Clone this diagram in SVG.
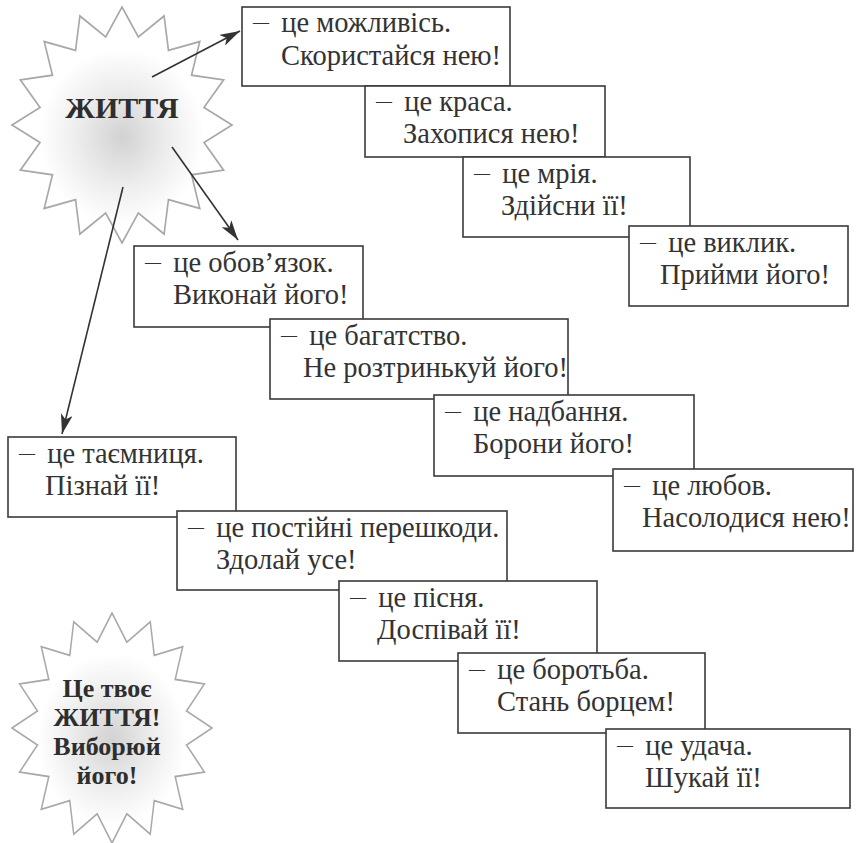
<svg xmlns="http://www.w3.org/2000/svg" width="856" height="843" viewBox="0 0 856 843">
<style>
.box rect{fill:#fff;stroke:#3a3a3a;stroke-width:1.6}
.box text{font-family:"Liberation Serif","DejaVu Serif","Times New Roman",serif;font-size:28.5px;fill:#333}
.d{font-size:16px}
.star{stroke:#a8a8a8;stroke-width:1.5;fill:url(#glow)}
.st{font-family:"Liberation Serif","DejaVu Serif","Times New Roman",serif;font-weight:bold;fill:#2e2e2e;text-anchor:middle}
.conn line{stroke:#333;stroke-width:1.6;marker-end:url(#ah)}
</style>
<defs>
<radialGradient id="glow" cx="50%" cy="55%" r="50%">
<stop offset="0" stop-color="#d2d2d2"/>
<stop offset="0.4" stop-color="#ececec"/>
<stop offset="0.75" stop-color="#ffffff"/>
</radialGradient>
<path id="starshape" d="M0,-100 L14.83,-74.54 L38.27,-92.39 L42.23,-63.19 L70.71,-70.71 L63.19,-42.23 L92.39,-38.27 L74.54,-14.83 L100,0 L74.54,14.83 L92.39,38.27 L63.19,42.23 L70.71,70.71 L42.23,63.19 L38.27,92.39 L14.83,74.54 L0,100 L-14.83,74.54 L-38.27,92.39 L-42.23,63.19 L-70.71,70.71 L-63.19,42.23 L-92.39,38.27 L-74.54,14.83 L-100,0 L-74.54,-14.83 L-92.39,-38.27 L-63.19,-42.23 L-70.71,-70.71 L-42.23,-63.19 L-38.27,-92.39 L-14.83,-74.54 Z"/>
<marker id="ah" markerUnits="userSpaceOnUse" markerWidth="22" markerHeight="12" refX="20" refY="6" orient="auto">
<path d="M0,0 L20,6 L0,12 L5,6 Z" fill="#333"/>
</marker>
</defs>
<rect width="856" height="843" fill="#fff"/>

<g id="star-top">
<use href="#starshape" class="star" transform="translate(122,125) scale(1.1,1.18)"/>
<text class="st" x="122" y="118" font-size="30">ЖИТТЯ</text>
</g>

<g id="star-bottom">
<use href="#starshape" class="star" transform="translate(112,728) scale(1.0,1.15)"/>
<text class="st" x="107" y="697" font-size="26">Це твоє</text>
<text class="st" x="107" y="726" font-size="26">ЖИТТЯ!</text>
<text class="st" x="107" y="755" font-size="26">Виборюй</text>
<text class="st" x="107" y="784" font-size="26">його!</text>
</g>

<g id="n1" class="box"><rect x="242" y="7" width="268" height="79"/><text x="253" y="32"><tspan class="d" baseline-shift="5">—</tspan><tspan dx="5"> це можливісь.</tspan></text><text x="281" y="65">Скористайся нею!</text></g>
<g id="n2" class="box"><rect x="365" y="86" width="240" height="71"/><text x="376" y="111"><tspan class="d" baseline-shift="5">—</tspan><tspan dx="5"> це краса.</tspan></text><text x="403" y="143">Захопися нею!</text></g>
<g id="n3" class="box"><rect x="463" y="157" width="227" height="80"/><text x="474" y="183"><tspan class="d" baseline-shift="5">—</tspan><tspan dx="5"> це мрія.</tspan></text><text x="501" y="215">Здійсни її!</text></g>
<g id="n4" class="box"><rect x="629" y="226" width="219" height="80"/><text x="640" y="252"><tspan class="d" baseline-shift="5">—</tspan><tspan dx="5"> це виклик.</tspan></text><text x="660" y="284">Прийми його!</text></g>
<g id="n5" class="box"><rect x="134" y="246" width="229" height="81"/><text x="145" y="272"><tspan class="d" baseline-shift="5">—</tspan><tspan dx="5"> це обов’язок.</tspan></text><text x="173" y="304">Виконай його!</text></g>
<g id="n6" class="box"><rect x="270" y="319" width="298" height="80"/><text x="281" y="345"><tspan class="d" baseline-shift="5">—</tspan><tspan dx="5"> це багатство.</tspan></text><text x="303" y="377">Не розтринькуй його!</text></g>
<g id="n7" class="box"><rect x="434" y="395" width="260" height="81"/><text x="445" y="421"><tspan class="d" baseline-shift="5">—</tspan><tspan dx="5"> це надбання.</tspan></text><text x="473" y="453">Борони його!</text></g>
<g id="n8" class="box"><rect x="613" y="469" width="240" height="82"/><text x="624" y="495"><tspan class="d" baseline-shift="5">—</tspan><tspan dx="5"> це любов.</tspan></text><text x="642" y="527">Насолодися нею!</text></g>
<g id="n9" class="box"><rect x="8" y="437" width="228" height="80"/><text x="19" y="463"><tspan class="d" baseline-shift="5">—</tspan><tspan dx="5"> це таємниця.</tspan></text><text x="45" y="495">Пізнай її!</text></g>
<g id="n10" class="box"><rect x="177" y="511" width="330" height="79"/><text x="188" y="537"><tspan class="d" baseline-shift="5">—</tspan><tspan dx="5"> це постійні перешкоди.</tspan></text><text x="216" y="569">Здолай усе!</text></g>
<g id="n11" class="box"><rect x="339" y="581" width="258" height="80"/><text x="350" y="607"><tspan class="d" baseline-shift="5">—</tspan><tspan dx="5"> це пісня.</tspan></text><text x="377" y="639">Доспівай її!</text></g>
<g id="n12" class="box"><rect x="458" y="653" width="247" height="80"/><text x="469" y="679"><tspan class="d" baseline-shift="5">—</tspan><tspan dx="5"> це боротьба.</tspan></text><text x="497" y="711">Стань борцем!</text></g>
<g id="n13" class="box"><rect x="606" y="729" width="244" height="79"/><text x="617" y="755"><tspan class="d" baseline-shift="5">—</tspan><tspan dx="5"> це удача.</tspan></text><text x="645" y="787">Шукай її!</text></g>

<g id="connectors" class="conn">
<line x1="152" y1="77" x2="240" y2="31"/>
<line x1="172" y1="147" x2="238" y2="240"/>
<line x1="123" y1="187" x2="62" y2="434"/>
</g>
</svg>
